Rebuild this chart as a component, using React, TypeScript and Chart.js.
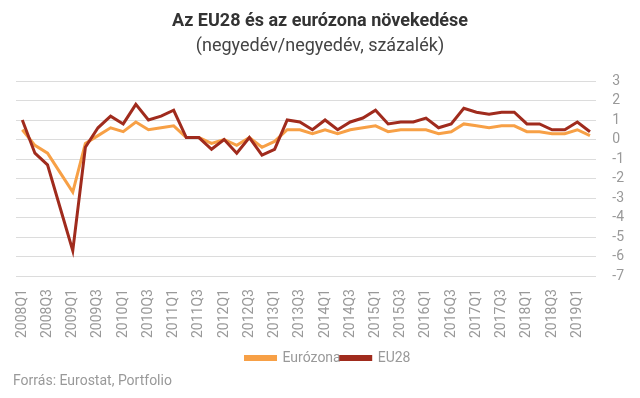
import React, { useEffect, useRef } from "react";
import { Chart, registerables } from "chart.js";

Chart.register(...registerables);

const quarters: string[] = [
  "2008Q1", "2008Q2", "2008Q3", "2008Q4",
  "2009Q1", "2009Q2", "2009Q3", "2009Q4",
  "2010Q1", "2010Q2", "2010Q3", "2010Q4",
  "2011Q1", "2011Q2", "2011Q3", "2011Q4",
  "2012Q1", "2012Q2", "2012Q3", "2012Q4",
  "2013Q1", "2013Q2", "2013Q3", "2013Q4",
  "2014Q1", "2014Q2", "2014Q3", "2014Q4",
  "2015Q1", "2015Q2", "2015Q3", "2015Q4",
  "2016Q1", "2016Q2", "2016Q3", "2016Q4",
  "2017Q1", "2017Q2", "2017Q3", "2017Q4",
  "2018Q1", "2018Q2", "2018Q3", "2018Q4",
  "2019Q1", "2019Q2",
];

const eurozone: number[] = [
  0.5, -0.3, -0.7, -1.7,
  -2.7, -0.2, 0.2, 0.6,
  0.4, 0.9, 0.5, 0.6,
  0.7, 0.1, 0.1, -0.2,
  0.0, -0.3, 0.1, -0.4,
  -0.1, 0.5, 0.5, 0.3,
  0.5, 0.3, 0.5, 0.6,
  0.7, 0.4, 0.5, 0.5,
  0.5, 0.3, 0.4, 0.8,
  0.7, 0.6, 0.7, 0.7,
  0.4, 0.4, 0.3, 0.3,
  0.5, 0.2,
];

const eu28: number[] = [
  1.0, -0.7, -1.3, -3.5,
  -5.7, -0.4, 0.6, 1.2,
  0.8, 1.8, 1.0, 1.2,
  1.5, 0.1, 0.1, -0.5,
  0.0, -0.7, 0.1, -0.8,
  -0.5, 1.0, 0.9, 0.5,
  1.0, 0.5, 0.9, 1.1,
  1.5, 0.8, 0.9, 0.9,
  1.1, 0.6, 0.8, 1.6,
  1.4, 1.3, 1.4, 1.4,
  0.8, 0.8, 0.5, 0.5,
  0.9, 0.4,
];

const seriesNames: string[] = ["Eurózona", "EU28"];
const titleText = "Az EU28 és az eurózona növekedése";
const subtitleText = "(negyedév/negyedév, százalék)";
const sourceText = "Forrás: Eurostat, Portfolio";

const FONT = "Roboto, 'Noto Sans', sans-serif";

export default function App() {
  const canvasRef = useRef<HTMLCanvasElement | null>(null);

  useEffect(() => {
    document.body.style.margin = "0";
    const canvas = canvasRef.current;
    if (!canvas) return;
    const chart = new Chart(canvas, {
      type: "line",
      data: {
        labels: quarters,
        datasets: [
          {
            label: seriesNames[0],
            data: eurozone,
            borderColor: "#f7a046",
            backgroundColor: "#f7a046",
            borderWidth: 3,
            pointRadius: 0,
            tension: 0,
            order: 1,
          },
          {
            label: seriesNames[1],
            data: eu28,
            borderColor: "#a02b1d",
            backgroundColor: "#a02b1d",
            borderWidth: 3,
            pointRadius: 0,
            tension: 0,
            order: 0,
          },
        ],
      },
      options: {
        animation: false,
        responsive: false,
        maintainAspectRatio: false,
        layout: {
          padding: { top: 81, left: 16, right: 0, bottom: 23 },
        },
        plugins: {
          title: { display: false },
          tooltip: { enabled: false },
          legend: {
            display: true,
            position: "bottom",
            labels: {
              boxWidth: 30,
              boxHeight: 3,
              padding: 0,
              color: "#999999",
              font: { family: FONT, size: 14 },
              sort: (a: any, b: any) => a.datasetIndex - b.datasetIndex,
            },
          },
        },
        scales: {
          x: {
            offset: true,
            grid: { display: false, drawTicks: false },
            border: { display: false },
            ticks: {
              autoSkip: false,
              maxRotation: 90,
              minRotation: 90,
              padding: 13,
              color: "#999999",
              font: { family: FONT, size: 14 },
              callback: (_v: any, i: number) => (i % 2 === 0 ? quarters[i] : null),
            },
          },
          y: {
            position: "right",
            min: -7,
            max: 3,
            grid: { color: "#dcdcdc", lineWidth: 1, drawTicks: false },
            border: { display: false },
            ticks: {
              stepSize: 1,
              autoSkip: false,
              padding: 16,
              color: "#999999",
              font: { family: FONT, size: 14 },
            },
          },
        },
      },
    });
    return () => chart.destroy();
  }, []);

  return (
    <div style={{ position: "absolute", left: 0, top: 0, width: 640, height: 398, background: "#fff", fontFamily: FONT }}>
      <canvas ref={canvasRef} width={640} height={398} style={{ position: "absolute", left: 0, top: 0 }} />
      <div style={{ position: "absolute", left: 0, top: 9, width: 640, textAlign: "center", fontWeight: 700, fontSize: 18, lineHeight: "22px", color: "#333" }}>
        {titleText}
      </div>
      <div style={{ position: "absolute", left: 0, top: 34, width: 640, textAlign: "center", fontSize: 18, lineHeight: "22px", color: "#444" }}>
        {subtitleText}
      </div>
      <div style={{ position: "absolute", left: 13, top: 371, fontSize: 14, lineHeight: "18px", color: "#999" }}>
        {sourceText}
      </div>
    </div>
  );
}
